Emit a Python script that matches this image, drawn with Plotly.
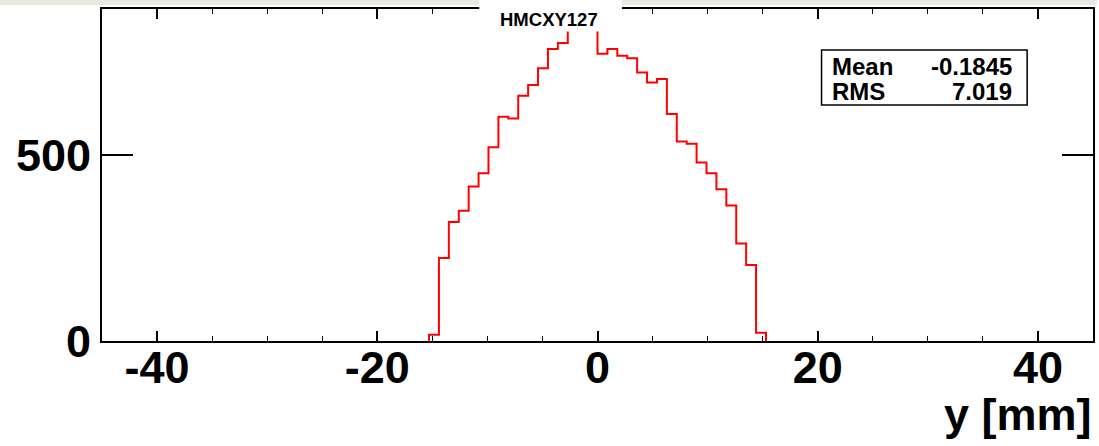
import numpy as np
import plotly.graph_objects as go

# Histogram HMCXY127: 100 bins over y in [-45, 45] mm
y_lo, y_hi, n_bins = -45.0, 45.0, 100
first_filled_bin = 33  # bin starting at y = -15.3 mm

counts = [
    17, 223, 320, 350, 415, 451, 521, 603, 598, 659, 688, 733, 785, 801,
    838, 850, 842,
    772, 785, 767, 760, 722, 695, 704, 610, 536, 530, 480, 451, 408, 364,
    262, 204, 22,
]

stats_labels = ["Mean", "RMS"]
stats_values = ["-0.1845", "7.019"]
hist_title = "HMCXY127"
x_title = "y [mm]"

x_major = [-40, -20, 0, 20, 40]
x_major_text = ["-40", "-20", "0", "20", "40"]
y_major = [0, 500]

edges = np.linspace(y_lo, y_hi, n_bins + 1)
# outline of the filled bins, closed down to zero at both ends
lo_edge = edges[first_filled_bin]
step_x = [lo_edge] + list(edges[first_filled_bin:first_filled_bin + len(counts) + 1])
step_y = [0] + counts + [0]

W, H = 1099, 446
L, R, T, B = 102, 1095, 9, 341  # plot frame in pixels


def px(xp):
    return (xp - L) / (R - L)


def py(yp):
    return (B - yp) / (B - T)


FONT = "Liberation Sans, Arial, Helvetica, sans-serif"

fig = go.Figure()
fig.add_trace(go.Scatter(
    x=step_x, y=step_y, mode="lines", line=dict(color="#ff0000", width=2, shape="hv"),
    hoverinfo="skip", showlegend=False,
))

fig.update_layout(
    width=W, height=H,
    margin=dict(l=L, r=W - R, t=T, b=H - B, pad=0),
    paper_bgcolor="white", plot_bgcolor="white",
    font=dict(family=FONT, color="black"),
    xaxis=dict(
        range=[y_lo, y_hi], tickvals=x_major, ticktext=x_major_text, ticks="inside",
        ticklen=10, tickwidth=1.5, ticklabelstandoff=-14,
        tickcolor="black", showline=True, linecolor="black", linewidth=2, mirror="ticks",
        showgrid=False, zeroline=False,
        tickfont=dict(size=45, family=FONT, weight="bold"),
        minor=dict(dtick=5, ticks="inside", ticklen=5, tickwidth=1, tickcolor="black", showgrid=False),
    ),
    yaxis=dict(
        range=[0, 1.05 * max(counts)], tickvals=y_major, ticks="inside", ticklen=31, tickwidth=2,
        tickcolor="black", showline=True, linecolor="black", linewidth=2, mirror="ticks",
        showgrid=False, zeroline=False,
        tickfont=dict(size=45, family=FONT, weight="bold"),
    ),
    shapes=[
        # canvas top strip
        dict(type="rect", xref="paper", yref="paper", x0=px(0), x1=px(W), y0=py(5), y1=py(0),
             fillcolor="#ebe8e2", line=dict(width=0), layer="above"),
        # title pad
        dict(type="rect", xref="paper", yref="paper", x0=px(480), x1=px(623), y0=py(31.5), y1=py(0),
             fillcolor="white", line=dict(width=0), layer="above"),
        # statistics box
        dict(type="rect", xref="paper", yref="paper", x0=px(823), x1=px(1029), y0=py(105), y1=py(50),
             fillcolor="white", line=dict(color="black", width=1.5), layer="above"),
    ],
)

annotations = [
    dict(text=hist_title, x=px(549.6), y=py(20), xanchor="center", yanchor="middle",
         font=dict(size=18.5, family=FONT, weight="bold")),
    dict(text=x_title, x=px(1096), y=py(414), xanchor="right", yanchor="middle",
         font=dict(size=45, family=FONT, weight="bold")),
]
for i, (lab, val) in enumerate(zip(stats_labels, stats_values)):
    yc = 66 + i * 25.5
    annotations.append(dict(text=lab, x=px(831), y=py(yc), xanchor="left", yanchor="middle",
                            font=dict(size=24, family=FONT, weight="bold")))
    annotations.append(dict(text=val, x=px(1016), y=py(yc), xanchor="right", yanchor="middle",
                            font=dict(size=24, family=FONT, weight="bold")))
for a in annotations:
    a.update(xref="paper", yref="paper", showarrow=False)
fig.update_layout(annotations=annotations)

fig.write_html("out.html")
